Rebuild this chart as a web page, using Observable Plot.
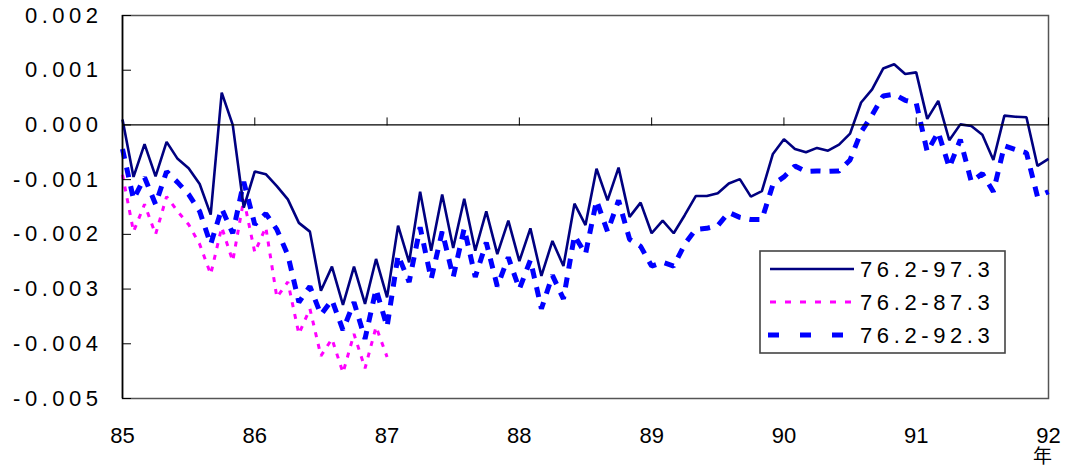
<!DOCTYPE html>
<html>
<head>
<meta charset="utf-8">
<script src="https://cdn.jsdelivr.net/npm/d3@7"></script>
<script src="https://cdn.jsdelivr.net/npm/@observablehq/plot@0.6"></script>
<style>
  body { margin: 0; background: #fff; }
  #chart { position: relative; width: 1066px; height: 467px; font-family: "Liberation Sans", Arial, sans-serif; }
  #legend { position: absolute; left: 759px; top: 250px; }
</style>
</head>
<body>
<div id="chart"></div>
<script>
// Monthly estimates, 85.0 through 92.0 (one value per month)
const startYear = 85;
const seriesNames = ["76.2-97.3", "76.2-87.3", "76.2-92.3"];

const est9703 = [
  0.00010, -0.00095, -0.00035, -0.00094, -0.00031, -0.00062, -0.00079, -0.00108, -0.00164, 0.00059,
  0.00000, -0.00151, -0.00085, -0.00090, -0.00112, -0.00136, -0.00179, -0.00195, -0.00303, -0.00259,
  -0.00329, -0.00259, -0.00327, -0.00245, -0.00315, -0.00184, -0.00251, -0.00122, -0.00230, -0.00127,
  -0.00225, -0.00135, -0.00230, -0.00158, -0.00236, -0.00175, -0.00249, -0.00189, -0.00276, -0.00212,
  -0.00258, -0.00144, -0.00183, -0.00080, -0.00138, -0.00078, -0.00168, -0.00142, -0.00198, -0.00175,
  -0.00198, -0.00165, -0.00130, -0.00130, -0.00125, -0.00107, -0.00099, -0.00131, -0.00121, -0.00053,
  -0.00026, -0.00044, -0.00050, -0.00042, -0.00047, -0.00036, -0.00016, 0.00041, 0.00065, 0.00103,
  0.00111, 0.00093, 0.00096, 0.00011, 0.00044, -0.00028, 0.00001, -0.00002, -0.00018, -0.00064,
  0.00017, 0.00015, 0.00014, -0.00075, -0.00062
];

const est8703 = [
  -0.00091, -0.00195, -0.00145, -0.00200, -0.00131, -0.00158, -0.00182, -0.00218, -0.00273, -0.00187,
  -0.00249, -0.00136, -0.00233, -0.00187, -0.00315, -0.00287, -0.00382, -0.00336, -0.00422, -0.00391,
  -0.00453, -0.00382, -0.00445, -0.00369, -0.00424
];

const est9203 = [
  -0.00044, -0.00136, -0.00096, -0.00145, -0.00085, -0.00105, -0.00127, -0.00158, -0.00218, -0.00153,
  -0.00198, -0.00104, -0.00182, -0.00162, -0.00191, -0.00238, -0.00324, -0.00295, -0.00347, -0.00320,
  -0.00375, -0.00324, -0.00391, -0.00300, -0.00369, -0.00238, -0.00287, -0.00187, -0.00282, -0.00195,
  -0.00278, -0.00189, -0.00278, -0.00215, -0.00295, -0.00242, -0.00300, -0.00247, -0.00336, -0.00275,
  -0.00318, -0.00202, -0.00236, -0.00138, -0.00195, -0.00138, -0.00209, -0.00222, -0.00258, -0.00251,
  -0.00258, -0.00218, -0.00191, -0.00189, -0.00184, -0.00160, -0.00169, -0.00173, -0.00173, -0.00109,
  -0.00095, -0.00075, -0.00085, -0.00084, -0.00085, -0.00084, -0.00064, -0.00013, 0.00018, 0.00053,
  0.00056, 0.00045, 0.00040, -0.00049, -0.00013, -0.00078, -0.00027, -0.00104, -0.00089, -0.00122,
  -0.00038, -0.00045, -0.00051, -0.00131, -0.00122
];

const yTicks = [-0.005, -0.004, -0.003, -0.002, -0.001, 0, 0.001, 0.002];
const xTicks = [85, 86, 87, 88, 89, 90, 91, 92];
const unitLabel = "年";

const seriesStyles = [
  {stroke: "#000080", strokeWidth: 2.6, dash: null},
  {stroke: "#FF00FF", strokeWidth: 3, dash: "5,7"},
  {stroke: "#0000FF", strokeWidth: 5, dash: "10,9"}
];

const toRows = (values) => values.map((v, i) => ({t: startYear + i / 12, v}));

const W = 1066, H = 467;
const margin = {top: 15, right: 18, bottom: 69, left: 122};
const yDomain = [-0.005, 0.002];
const plotH = H - margin.top - margin.bottom;
// distance from the top of the frame down to the zero line
const zeroOffset = plotH * (yDomain[1] - 0) / (yDomain[1] - yDomain[0]);

const lineMark = (values, s) => Plot.line(toRows(values), {
  x: "t", y: "v", stroke: s.stroke, strokeWidth: s.strokeWidth,
  strokeDasharray: s.dash, strokeLinejoin: "miter", strokeLinecap: "butt"
});

const chart = Plot.plot({
  width: W, height: H,
  marginTop: margin.top, marginRight: margin.right, marginBottom: margin.bottom, marginLeft: margin.left,
  style: {fontFamily: "'Liberation Sans', Arial, sans-serif", fontSize: "22px", color: "#000", background: "#fff", overflow: "visible"},
  x: {domain: [85, 92]},
  y: {domain: yDomain},
  marks: [
    Plot.frame({stroke: "#555", strokeWidth: 1.5}),
    lineMark(est8703, seriesStyles[1]),
    lineMark(est9203, seriesStyles[2]),
    lineMark(est9703, seriesStyles[0]),
    Plot.ruleY([0], {stroke: "#000", strokeWidth: 1.2}),
    Plot.ruleX([85], {stroke: "#000", strokeWidth: 1.6}),
    // inward ticks on the value axis
    Plot.axisY(yTicks, {anchor: "left", tickSize: 9, dx: 9, tickFormat: () => "", label: null, stroke: "#000"}),
    Plot.axisY(yTicks, {anchor: "left", tickSize: 0, tickPadding: 20, tickFormat: (d) => d.toFixed(3), label: null, fontSize: 22}),
    // year ticks sit on the zero line
    Plot.axisX(xTicks, {anchor: "top", tickSize: 8, dy: zeroOffset, tickFormat: () => "", label: null, stroke: "#000"}),
    Plot.axisX(xTicks, {anchor: "bottom", tickSize: 0, tickPadding: 29, tickFormat: (d) => String(d), label: null, fontSize: 22}),
    Plot.text([unitLabel], {x: () => 92, text: (d) => d, frameAnchor: "bottom", dy: 58, dx: -6, fontSize: 19, fontFamily: "'Noto Sans CJK SC', sans-serif", lineAnchor: "middle"})
  ]
});

d3.select(chart).selectAll('g[aria-label="y-axis tick label"] text').style("letter-spacing", "4.5px");

const host = document.getElementById("chart");
host.appendChild(chart);

// Legend box inside the plot area
const lg = d3.select(host).append("svg")
  .attr("id", "legend")
  .attr("width", 248).attr("height", 105)
  .style("font-family", "'Liberation Sans', Arial, sans-serif");
lg.append("rect").attr("x", 1).attr("y", 1).attr("width", 245).attr("height", 102)
  .attr("fill", "#fff").attr("stroke", "#444").attr("stroke-width", 1.6);
const rowY = [19, 52, 85];
seriesNames.forEach((name, i) => {
  const s = seriesStyles[i];
  lg.append("line")
    .attr("x1", i === 2 ? 9 : 11).attr("x2", i === 2 ? 86 : 95)
    .attr("y1", rowY[i]).attr("y2", rowY[i])
    .attr("stroke", s.stroke).attr("stroke-width", s.strokeWidth)
    .attr("stroke-dasharray", i === 1 ? "6,9" : i === 2 ? "11,21" : null);
  lg.append("text")
    .attr("x", 101).attr("y", rowY[i]).attr("dy", "0.36em")
    .attr("font-size", 22).style("letter-spacing", "4.6px")
    .text(name);
});
</script>
</body>
</html>
